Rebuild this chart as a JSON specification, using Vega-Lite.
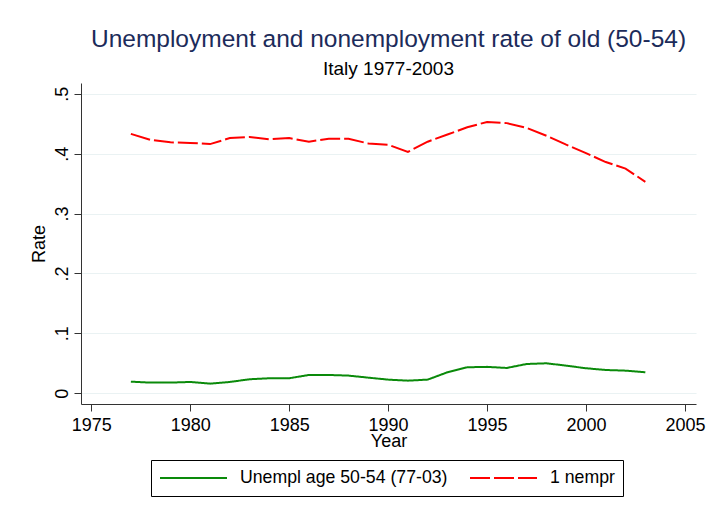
{
  "$schema": "https://vega.github.io/schema/vega-lite/v6.json",
  "width": 615,
  "height": 321,
  "autosize": {"type": "none"},
  "padding": {"left": 81, "top": 83, "right": 12, "bottom": 112},
  "background": "white",
  "config": {
    "font": "Liberation Sans",
    "view": {"stroke": null}
  },
  "title": {
    "text": "Unemployment and nonemployment rate of old (50-54)",
    "subtitle": "Italy 1977-2003",
    "anchor": "middle",
    "fontSize": 24.5,
    "fontWeight": "normal",
    "color": "#1c2b5a",
    "subtitleFontSize": 19,
    "subtitleColor": "#000000",
    "subtitlePadding": 8,
    "offset": 3
  },
  "data": {
    "values": [
      {"year": 1977, "series": "Unempl age 50-54 (77-03)", "value": 0.0193},
      {"year": 1978, "series": "Unempl age 50-54 (77-03)", "value": 0.0177},
      {"year": 1979, "series": "Unempl age 50-54 (77-03)", "value": 0.0177},
      {"year": 1980, "series": "Unempl age 50-54 (77-03)", "value": 0.0188},
      {"year": 1981, "series": "Unempl age 50-54 (77-03)", "value": 0.016},
      {"year": 1982, "series": "Unempl age 50-54 (77-03)", "value": 0.0188},
      {"year": 1983, "series": "Unempl age 50-54 (77-03)", "value": 0.0233},
      {"year": 1984, "series": "Unempl age 50-54 (77-03)", "value": 0.025},
      {"year": 1985, "series": "Unempl age 50-54 (77-03)", "value": 0.025},
      {"year": 1986, "series": "Unempl age 50-54 (77-03)", "value": 0.0305},
      {"year": 1987, "series": "Unempl age 50-54 (77-03)", "value": 0.0305},
      {"year": 1988, "series": "Unempl age 50-54 (77-03)", "value": 0.0294},
      {"year": 1989, "series": "Unempl age 50-54 (77-03)", "value": 0.026},
      {"year": 1990, "series": "Unempl age 50-54 (77-03)", "value": 0.0227},
      {"year": 1991, "series": "Unempl age 50-54 (77-03)", "value": 0.021},
      {"year": 1992, "series": "Unempl age 50-54 (77-03)", "value": 0.0227},
      {"year": 1993, "series": "Unempl age 50-54 (77-03)", "value": 0.035},
      {"year": 1994, "series": "Unempl age 50-54 (77-03)", "value": 0.0433},
      {"year": 1995, "series": "Unempl age 50-54 (77-03)", "value": 0.044},
      {"year": 1996, "series": "Unempl age 50-54 (77-03)", "value": 0.0422},
      {"year": 1997, "series": "Unempl age 50-54 (77-03)", "value": 0.0488},
      {"year": 1998, "series": "Unempl age 50-54 (77-03)", "value": 0.05},
      {"year": 1999, "series": "Unempl age 50-54 (77-03)", "value": 0.046},
      {"year": 2000, "series": "Unempl age 50-54 (77-03)", "value": 0.0417},
      {"year": 2001, "series": "Unempl age 50-54 (77-03)", "value": 0.0388},
      {"year": 2002, "series": "Unempl age 50-54 (77-03)", "value": 0.0377},
      {"year": 2003, "series": "Unempl age 50-54 (77-03)", "value": 0.035},
      {"year": 1977, "series": "1 nempr", "value": 0.433},
      {"year": 1978, "series": "1 nempr", "value": 0.423},
      {"year": 1979, "series": "1 nempr", "value": 0.419},
      {"year": 1980, "series": "1 nempr", "value": 0.418},
      {"year": 1981, "series": "1 nempr", "value": 0.416},
      {"year": 1982, "series": "1 nempr", "value": 0.426},
      {"year": 1983, "series": "1 nempr", "value": 0.428},
      {"year": 1984, "series": "1 nempr", "value": 0.424},
      {"year": 1985, "series": "1 nempr", "value": 0.426},
      {"year": 1986, "series": "1 nempr", "value": 0.42},
      {"year": 1987, "series": "1 nempr", "value": 0.425},
      {"year": 1988, "series": "1 nempr", "value": 0.425},
      {"year": 1989, "series": "1 nempr", "value": 0.417},
      {"year": 1990, "series": "1 nempr", "value": 0.415},
      {"year": 1991, "series": "1 nempr", "value": 0.403},
      {"year": 1992, "series": "1 nempr", "value": 0.42},
      {"year": 1993, "series": "1 nempr", "value": 0.432},
      {"year": 1994, "series": "1 nempr", "value": 0.444},
      {"year": 1995, "series": "1 nempr", "value": 0.453},
      {"year": 1996, "series": "1 nempr", "value": 0.451},
      {"year": 1997, "series": "1 nempr", "value": 0.443},
      {"year": 1998, "series": "1 nempr", "value": 0.43},
      {"year": 1999, "series": "1 nempr", "value": 0.415},
      {"year": 2000, "series": "1 nempr", "value": 0.401},
      {"year": 2001, "series": "1 nempr", "value": 0.386},
      {"year": 2002, "series": "1 nempr", "value": 0.375},
      {"year": 2003, "series": "1 nempr", "value": 0.353}
    ]
  },
  "mark": {"type": "line", "strokeWidth": 2, "clip": true},
  "encoding": {
    "x": {
      "field": "year",
      "type": "quantitative",
      "scale": {"domain": [1974.48, 2005.56], "nice": false, "zero": false},
      "axis": {
        "values": [1975, 1980, 1985, 1990, 1995, 2000, 2005],
        "format": "d",
        "title": "Year",
        "grid": false,
        "domainColor": "#333333",
        "tickColor": "#333333",
        "tickSize": 7,
        "labelFontSize": 18,
        "labelColor": "#000000",
        "labelPadding": 5,
        "titleFontSize": 18,
        "titleFontWeight": "normal",
        "titleColor": "#000000",
        "titlePadding": -2
      }
    },
    "y": {
      "field": "value",
      "type": "quantitative",
      "scale": {"domain": [-0.018, 0.518], "nice": false, "zero": false},
      "axis": {
        "values": [0, 0.1, 0.2, 0.3, 0.4, 0.5],
        "labelExpr": "datum.value == 0 ? '0' : replace(format(datum.value, '.1f'), '0.', '.')",
        "title": "Rate",
        "grid": true,
        "gridColor": "#eaf2f3",
        "gridWidth": 1.2,
        "domainColor": "#333333",
        "tickColor": "#333333",
        "tickSize": 7,
        "labelAngle": -90,
        "labelAlign": "center",
        "labelBaseline": "bottom",
        "labelFontSize": 18,
        "labelColor": "#000000",
        "labelPadding": 3,
        "titleFontSize": 18,
        "titleFontWeight": "normal",
        "titleColor": "#000000",
        "titlePadding": 5
      }
    },
    "color": {
      "field": "series",
      "type": "nominal",
      "scale": {
        "domain": ["Unempl age 50-54 (77-03)", "1 nempr"],
        "range": ["#0a8a0a", "#ff0000"]
      },
      "legend": {
        "title": null,
        "orient": "none",
        "legendX": 70,
        "legendY": 377,
        "direction": "horizontal",
        "columns": 2,
        "columnPadding": 21,
        "symbolType": "stroke",
        "symbolSize": 4489,
        "symbolStrokeWidth": 2,
        "clipHeight": 20,
        "labelFontSize": 17.7,
        "labelColor": "#000000",
        "labelOffset": 12,
        "strokeColor": "#000000",
        "padding": 8,
        "labelLimit": 400
      }
    },
    "strokeDash": {
      "field": "series",
      "type": "nominal",
      "scale": {
        "domain": ["Unempl age 50-54 (77-03)", "1 nempr"],
        "range": [[1, 0], [20, 4]]
      },
      "legend": null
    }
  }
}
